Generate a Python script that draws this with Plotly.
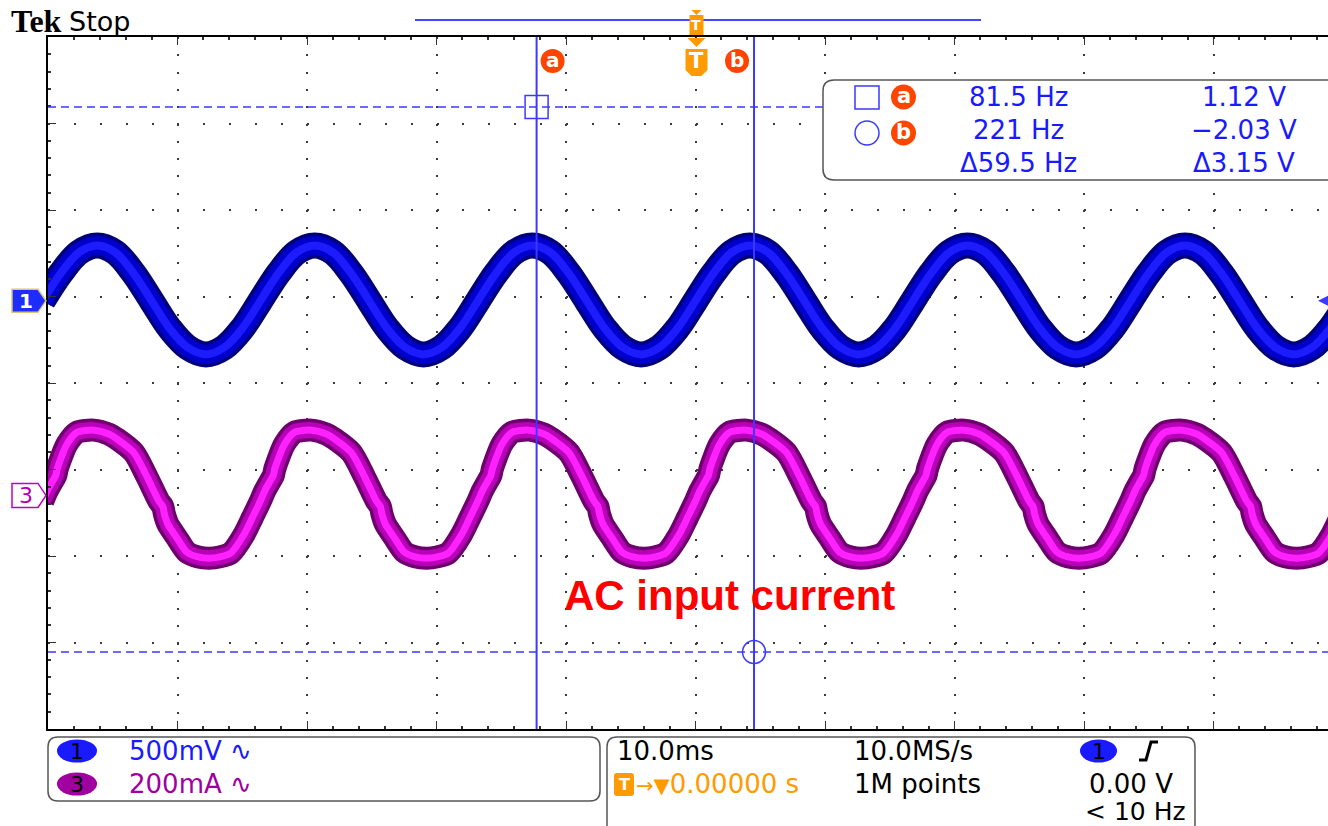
import plotly.graph_objects as go

# ---------------- scope settings ----------------
X_RANGE_MS = [-50.0, 48.842]      # graticule left edge .. right edge of the window
Y_RANGE_DIV = [-4.0, 4.0]
CH1_VOLTS_PER_DIV = 0.5
CH3_MA_PER_DIV = 200.0
CH1_POSITION_DIV = 0.95
CH3_POSITION_DIV = -1.30

# rising zero crossings of channel 1 (start of each line cycle), ms
CYCLE_STARTS_MS = [-50.4, -33.6, -16.8, 0.0, 16.8, 33.6]
CYCLE_END_MS = 50.4

# one line cycle of channel 1 (AC voltage), V
CH1_T_MS = [0.0, 1.4, 2.8, 4.2, 5.6, 7.0, 8.4, 9.8, 11.2, 12.6, 14.0, 15.4]
CH1_V = [0.00, 0.16, 0.28, 0.32, 0.28, 0.16, 0.00, -0.16, -0.27, -0.31, -0.27, -0.16]

# one line cycle of channel 3 (AC input current), mA
CH3_T_MS = [0.0, 0.33, 0.85, 1.00, 1.12, 1.85, 2.63, 3.94, 5.10, 5.71, 7.03, 8.03,
            8.96, 9.27, 9.38, 9.65, 10.35, 11.12, 11.97, 12.82, 13.67, 14.52, 15.52, 16.20]
CH3_MA = [-13, 10, 38, 46, 62, 118, 146, 151, 142, 131, 99, 44,
          -13, -26, -42, -66, -98, -131, -142, -145, -142, -133, -91, -50]

# cursors
CURSOR_T_MS = [-12.27, 4.52]
CURSOR_V = [1.12, -2.03]
CURSOR_NAMES = ["a", "b"]
READOUT_FREQ = ["81.5 Hz", "221 Hz", "Δ59.5 Hz"]
READOUT_VOLT = ["1.12 V", "−2.03 V", "Δ3.15 V"]

# channel / timebase readouts
CH_SCALES = ["500mV ∿", "200mA ∿"]
TIMEBASE = "10.0ms"
TRIG_POS = "0.00000 s"
SAMPLE_RATE = "10.0MS/s"
RECORD = "1M points"
TRIG_LEVEL = "0.00 V"
TRIG_FREQ = "< 10 Hz"

# ---------------- page geometry (plot area in px) ----------------
L, T, W, H = 48, 37, 1280, 692
SANS = "DejaVu Sans"
BLUE = "#1a1aff"
CURSOR_BLUE = "#3a3aff"
PURPLE = "#a000a0"
ORANGE = "#ff9a00"
RED_ORANGE = "#ff4400"


def px(x):
    return (x - L) / W


def py(y):
    return (T + H - y) / H


def x_of_ms(t):
    return L + (t - X_RANGE_MS[0]) / (X_RANGE_MS[1] - X_RANGE_MS[0]) * W


def y_of_div(d):
    return T + (Y_RANGE_DIV[1] - d) / (Y_RANGE_DIV[1] - Y_RANGE_DIV[0]) * H


def poly(pts, close=True):
    s = "M" + " L".join(f"{px(x):.5f},{py(y):.5f}" for x, y in pts)
    return s + (" Z" if close else "")


def rrect(x0, y0, x1, y1, r):
    def p(x, y):
        return f"{px(x):.5f},{py(y):.5f}"
    return (f"M{p(x0 + r, y0)} L{p(x1 - r, y0)} Q{p(x1, y0)} {p(x1, y0 + r)} "
            f"L{p(x1, y1 - r)} Q{p(x1, y1)} {p(x1 - r, y1)} L{p(x0 + r, y1)} "
            f"Q{p(x0, y1)} {p(x0, y1 - r)} L{p(x0, y0 + r)} Q{p(x0, y0)} {p(x0 + r, y0)} Z")


def tile(t_cycle, vals):
    xs, ys = [], []
    for s in CYCLE_STARTS_MS:
        for t, v in zip(t_cycle, vals):
            xs.append(s + t)
            ys.append(v)
    xs.append(CYCLE_END_MS)
    ys.append(vals[0])
    return xs, ys


t1, v1 = tile(CH1_T_MS, CH1_V)
y1 = [v / CH1_VOLTS_PER_DIV + CH1_POSITION_DIV for v in v1]
t3, i3 = tile(CH3_T_MS, CH3_MA)
y3 = [i / CH3_MA_PER_DIV + CH3_POSITION_DIV for i in i3]

fig = go.Figure()

# intensity-graded traces: dark edge, mid body, bright core
for width, color in [(26, "#000078"), (19, "#0000cc"), (8, "#1c1cff")]:
    fig.add_trace(go.Scatter(x=t1, y=y1, mode="lines", hoverinfo="skip", showlegend=False,
                             line=dict(color=color, width=width, shape="spline", smoothing=1.0)))
for width, color in [(23, "#6e006e"), (16, "#b800b8"), (7, "#ff22ff")]:
    fig.add_trace(go.Scatter(x=t3, y=y3, mode="lines", hoverinfo="skip", showlegend=False,
                             line=dict(color=color, width=width, shape="spline", smoothing=0.7)))

shapes = []
ann = []


def text(s, x, y, size, color, anchor="left", family=SANS, yanchor="middle"):
    ann.append(dict(text=s, x=px(x), y=py(y), xref="paper", yref="paper", xanchor=anchor,
                    yanchor=yanchor, showarrow=False, borderpad=0,
                    font=dict(size=size, color=color, family=family)))


# ---- cursors ----
for t in CURSOR_T_MS:
    shapes.append(dict(type="line", xref="x", yref="paper", x0=t, x1=t, y0=0, y1=1,
                       line=dict(color=CURSOR_BLUE, width=2)))
for v in CURSOR_V:
    d = v / CH1_VOLTS_PER_DIV + CH1_POSITION_DIV
    shapes.append(dict(type="line", xref="paper", yref="y", x0=0, x1=1, y0=d, y1=d,
                       line=dict(color=CURSOR_BLUE, width=1.5, dash="8px,5px")))
# cursor intersection markers
for kind, t, v in [("rect", CURSOR_T_MS[0], CURSOR_V[0]), ("circle", CURSOR_T_MS[1], CURSOR_V[1])]:
    d = v / CH1_VOLTS_PER_DIV + CH1_POSITION_DIV
    shapes.append(dict(type=kind, xref="x", yref="y", xsizemode="pixel", ysizemode="pixel",
                       xanchor=t, yanchor=d, x0=-11.5, x1=11.5, y0=-11.5, y1=11.5,
                       line=dict(color=CURSOR_BLUE, width=1.5)))
# cursor name badges
for name, t, off in zip(CURSOR_NAMES, CURSOR_T_MS, [16, -17]):
    cx = x_of_ms(t) + off
    shapes.append(dict(type="circle", xref="paper", yref="paper", x0=px(cx - 12), x1=px(cx + 12),
                       y0=py(73), y1=py(49), fillcolor=RED_ORANGE, line=dict(width=0)))
    text(f"<b>{name}</b>", cx, 60, 20, "white", anchor="center")

# ---- trigger position markers ----
tx = x_of_ms(0.0) + 1
shapes.append(dict(type="line", xref="paper", yref="paper", x0=px(415), x1=px(981),
                   y0=py(20), y1=py(20), line=dict(color="#4646ff", width=2)))
shapes.append(dict(type="path", xref="paper", yref="paper", path=poly([(tx - 5, 10), (tx + 5, 10), (tx, 15)]),
                   fillcolor=ORANGE, line=dict(width=0)))
shapes.append(dict(type="path", xref="paper", yref="paper",
                   path=poly([(tx - 7, 15), (tx + 7, 15), (tx + 7, 35), (tx - 7, 35)]),
                   fillcolor=ORANGE, line=dict(width=0)))
text("<b>T</b>", tx, 25, 14, "white", anchor="center")
shapes.append(dict(type="path", xref="paper", yref="paper", path=poly([(tx - 9, 38), (tx + 9, 38), (tx, 47)]),
                   fillcolor=ORANGE, line=dict(width=0)))
shapes.append(dict(type="path", xref="paper", yref="paper",
                   path=poly([(tx - 11, 49), (tx + 11, 49), (tx + 11, 70), (tx + 5, 76), (tx - 5, 76), (tx - 11, 70)]),
                   fillcolor=ORANGE, line=dict(width=0)))
text("<b>T</b>", tx, 61, 21, "white", anchor="center")

# ---- cursor readout box ----
shapes.append(dict(type="path", xref="paper", yref="paper", path=rrect(823, 80, 1345, 180, 11),
                   fillcolor="white", line=dict(color="#555555", width=1.5)))
shapes.append(dict(type="rect", xref="paper", yref="paper", x0=px(855), x1=px(879), y0=py(109), y1=py(86),
                   line=dict(color=CURSOR_BLUE, width=1.5)))
shapes.append(dict(type="circle", xref="paper", yref="paper", x0=px(855), x1=px(879), y0=py(145), y1=py(121),
                   line=dict(color=CURSOR_BLUE, width=1.5)))
for name, cy in zip(CURSOR_NAMES, [97, 133]):
    shapes.append(dict(type="circle", xref="paper", yref="paper", x0=px(891), x1=px(916),
                       y0=py(cy + 12.5), y1=py(cy - 12.5), fillcolor=RED_ORANGE, line=dict(width=0)))
    text(f"<b>{name}</b>", 903.5, cy - 1, 21, "white", anchor="center")
for s, cy in zip(READOUT_FREQ, [97, 130, 163]):
    text(s, 1018, cy, 26, BLUE, anchor="center")
for s, cy in zip(READOUT_VOLT, [97, 130, 163]):
    text(s, 1244, cy, 26, BLUE, anchor="center")

# ---- channel ground markers ----
g1 = y_of_div(CH1_POSITION_DIV)
g3 = y_of_div(CH3_POSITION_DIV)
shapes.append(dict(type="path", xref="paper", yref="paper",
                   path=poly([(12, g1 - 11.5), (38, g1 - 11.5), (46, g1), (38, g1 + 11.5), (12, g1 + 11.5)]),
                   fillcolor="#1e2dff", line=dict(color="#d8c870", width=1.5)))
text("<b>1</b>", 26, g1, 20, "white", anchor="center")
shapes.append(dict(type="path", xref="paper", yref="paper",
                   path=poly([(12, g3 - 12), (38, g3 - 12), (46, g3), (38, g3 + 12), (12, g3 + 12)]),
                   fillcolor="white", line=dict(color="#c000c0", width=1.5)))
text("3", 26, g3, 22, "#b000b0", anchor="center")
# trigger level indicator at the right edge
shapes.append(dict(type="path", xref="paper", yref="paper",
                   path=poly([(1318, g1), (1328, g1 - 5), (1328, g1 + 5)]),
                   fillcolor=CURSOR_BLUE, line=dict(width=0)))

# ---- header ----
text("<b>Tek</b>", 10, 21, 32, "black", family="Liberation Serif")
text("Stop", 68, 21, 27, "black")

# ---- bottom status boxes ----
shapes.append(dict(type="path", xref="paper", yref="paper", path=rrect(48, 737, 600, 801, 10),
                   fillcolor="white", line=dict(color="#555555", width=1.5)))
shapes.append(dict(type="path", xref="paper", yref="paper", path=rrect(607, 737, 1195, 845, 10),
                   fillcolor="white", line=dict(color="#555555", width=1.5)))
for label, fill, cy in [("1", BLUE, 751), ("3", PURPLE, 784)]:
    shapes.append(dict(type="circle", xref="paper", yref="paper", x0=px(57), x1=px(97),
                       y0=py(cy + 11.5), y1=py(cy - 11.5), fillcolor=fill, line=dict(width=0)))
    text(label, 77, cy, 22, "black", anchor="center")
text(CH_SCALES[0], 128, 751, 26, BLUE)
text(CH_SCALES[1], 128, 784, 26, PURPLE)

text(TIMEBASE, 616, 751, 26, "black")
shapes.append(dict(type="path", xref="paper", yref="paper", path=rrect(614, 773, 634, 796, 3),
                   fillcolor=ORANGE, line=dict(width=0)))
text("<b>T</b>", 624, 784, 16, "white", anchor="center")
text('<span style="font-size:21px">→▼</span>' + TRIG_POS, 635, 784, 26, ORANGE)
text(SAMPLE_RATE, 853, 751, 26, "black")
text(RECORD, 853, 784, 26, "black")
shapes.append(dict(type="circle", xref="paper", yref="paper", x0=px(1080), x1=px(1117),
                   y0=py(762.5), y1=py(739.5), fillcolor=BLUE, line=dict(width=0)))
text("1", 1098.5, 751, 22, "black", anchor="center")
shapes.append(dict(type="path", xref="paper", yref="paper",
                   path=poly([(1139, 760), (1146, 760), (1151, 742), (1158, 742)], close=False),
                   line=dict(color="black", width=3)))
text(TRIG_LEVEL, 1174, 784, 26, "black", anchor="right")
text(TRIG_FREQ, 1187, 811, 25, "black", anchor="right")

# ---- annotation on the current trace ----
text("<b>AC input current</b>", 563, 595, 42, "#ff0000", family="Liberation Sans")

fig.update_layout(
    width=1328, height=826,
    margin=dict(l=L, r=0, t=T, b=826 - T - H),
    paper_bgcolor="white", plot_bgcolor="white", showlegend=False,
    shapes=shapes, annotations=ann,
    xaxis=dict(range=X_RANGE_MS, fixedrange=True, showticklabels=False, zeroline=False,
               showgrid=True, gridcolor="#3a3a3a", gridwidth=2, griddash="2px,15.3px",
               tick0=-50, dtick=10, ticks="inside", ticklen=8, tickwidth=1, tickcolor="#333333",
               minor=dict(dtick=2, ticks="inside", ticklen=3, tickwidth=2, tickcolor="#333333", showgrid=False),
               showline=True, linecolor="black", linewidth=2, mirror="ticks"),
    yaxis=dict(range=Y_RANGE_DIV, fixedrange=True, showticklabels=False, zeroline=False,
               showgrid=True, gridcolor="#3a3a3a", gridwidth=2, griddash="2px,23.9px",
               tick0=-4, dtick=1, ticks="inside", ticklen=8, tickwidth=1, tickcolor="#333333",
               minor=dict(dtick=0.2, ticks="inside", ticklen=3, tickwidth=2, tickcolor="#333333", showgrid=False),
               showline=True, linecolor="black", linewidth=2, mirror=False),
)

fig.write_html("out.html", config={"displayModeBar": False, "staticPlot": True})
